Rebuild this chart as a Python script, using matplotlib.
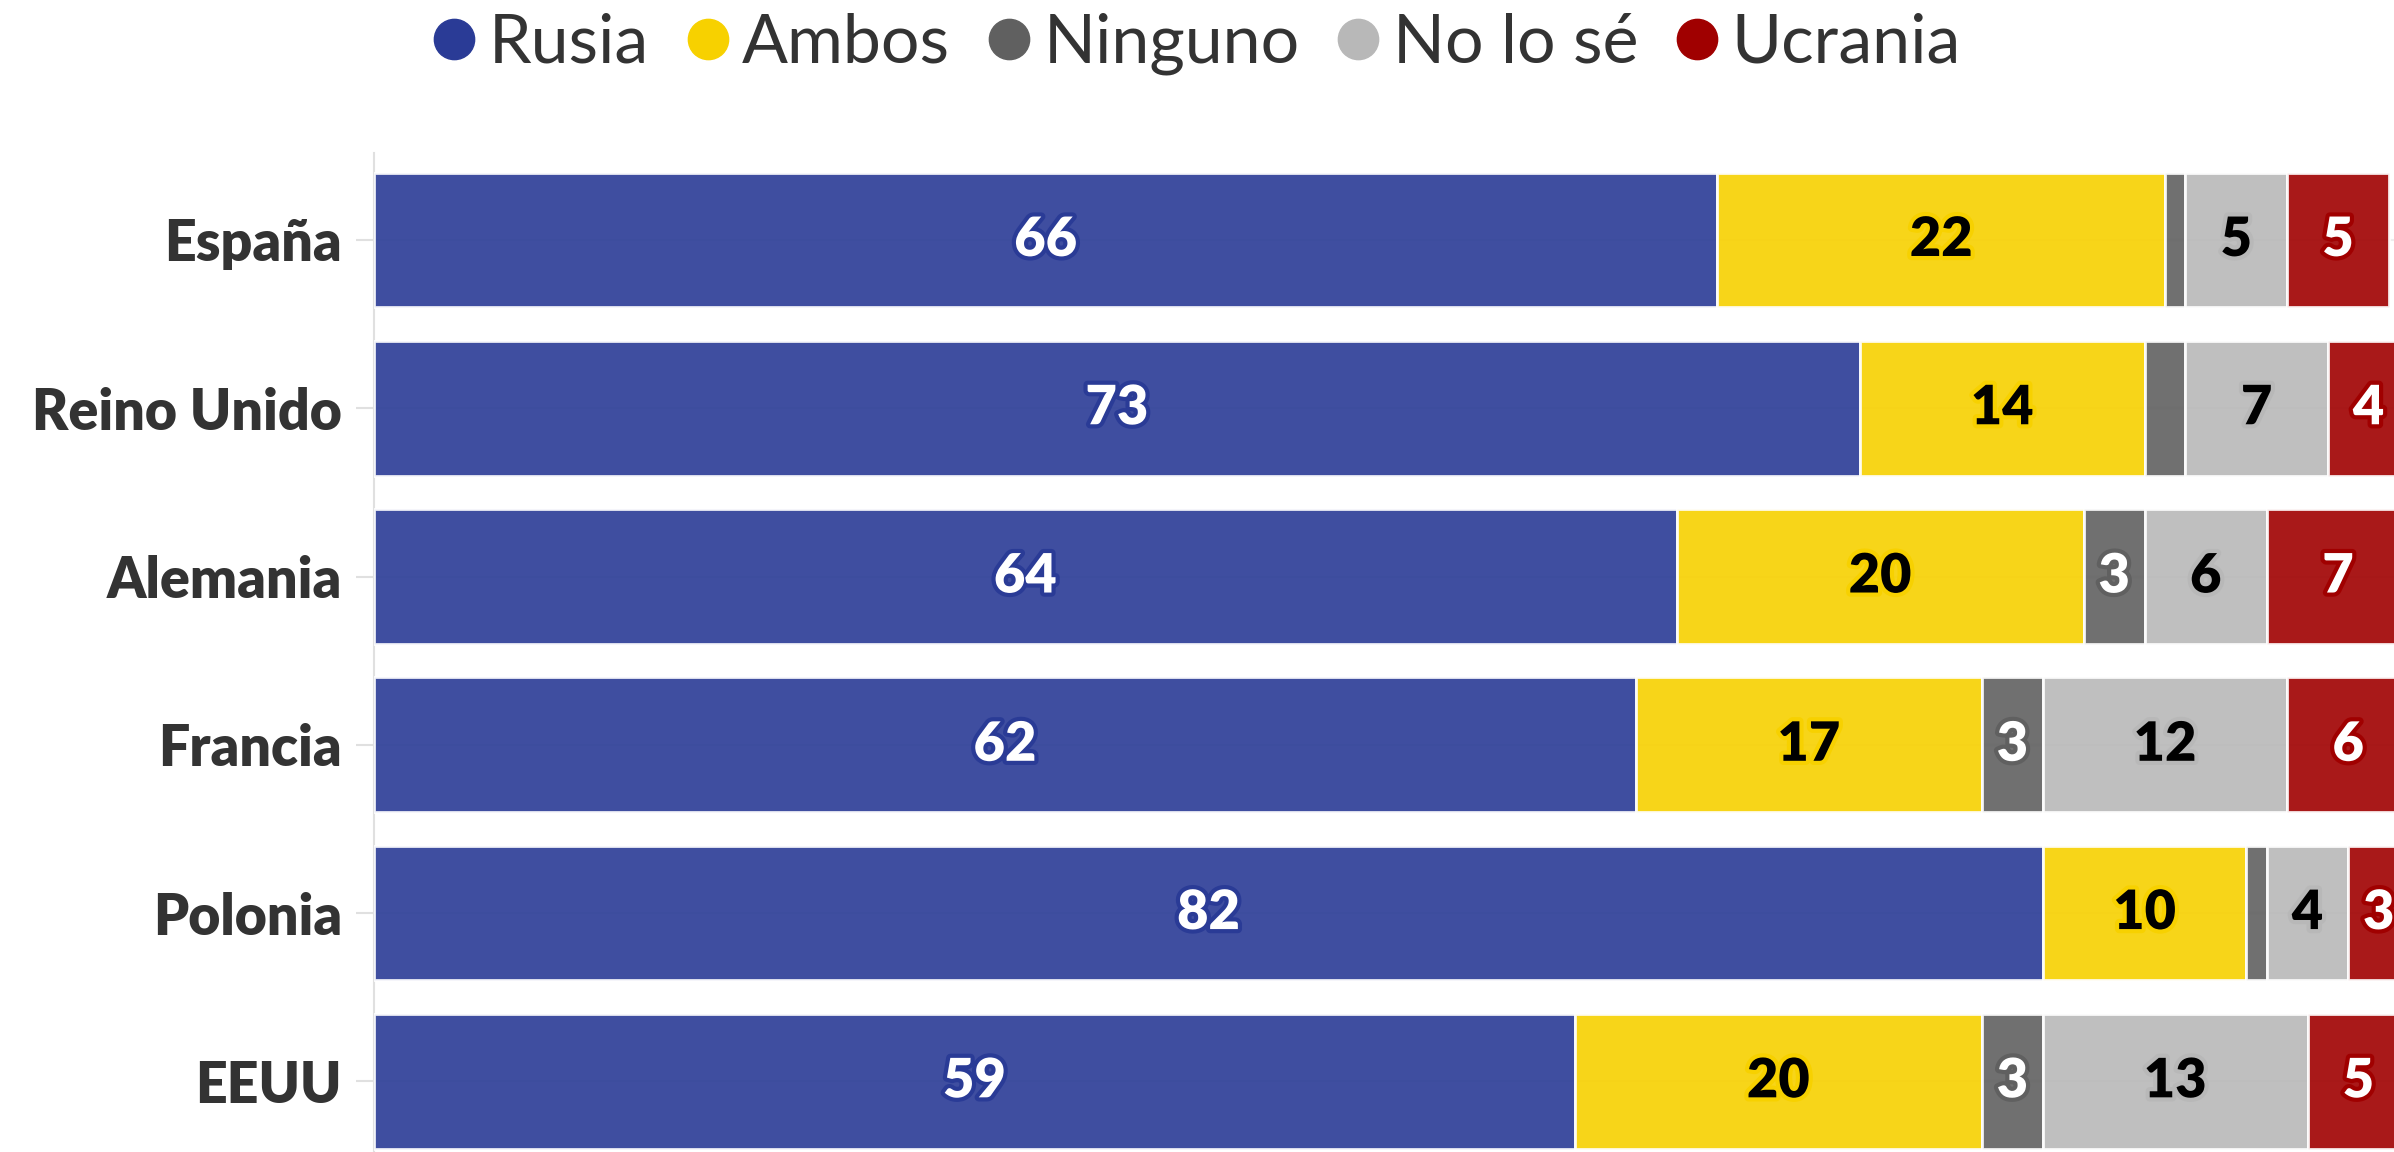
import matplotlib
matplotlib.use("Agg")
import matplotlib.pyplot as plt
import matplotlib.patheffects as pe
from matplotlib.lines import Line2D
import numpy as np

countries = ["España", "Reino Unido", "Alemania", "Francia", "Polonia", "EEUU"]
series_names = ["Rusia", "Ambos", "Ninguno", "No lo sé", "Ucrania"]
rusia = [66, 73, 64, 62, 82, 59]
ambos = [22, 14, 20, 17, 10, 20]
ninguno = [1, 2, 3, 3, 1, 3]
no_lo_se = [5, 7, 6, 12, 4, 13]
ucrania = [5, 4, 7, 6, 3, 5]

series_values = [rusia, ambos, ninguno, no_lo_se, ucrania]
colors = ["#2a3b96", "#f7d100", "#606060", "#b8b8b8", "#a00000"]
text_colors = ["white", "black", "white", "black", "white"]

plt.rcParams['font.family'] = ['Lato', 'DejaVu Sans']

fig = plt.figure(figsize=(23.94, 11.52), dpi=100)
ax = fig.add_axes([374/2394, 0.0, 1 - 374/2394, 1 - 153/1152])

y = np.arange(len(countries))
left = np.zeros(len(countries))
for vals, col, tcol in zip(series_values, colors, text_colors):
    vals = np.array(vals, dtype=float)
    ax.barh(y, vals, left=left, height=0.8, color=col, alpha=0.9,
            edgecolor='white', linewidth=2, zorder=3)
    for yi, (l, v) in enumerate(zip(left, vals)):
        if v >= 3:
            ax.text(l + v / 2, yi, f"{int(v)}", ha='center', va='center',
                    fontsize=39, fontweight='heavy', color=tcol, zorder=5,
                    path_effects=[pe.withStroke(linewidth=6, foreground=col)])
    left += vals

ax.set_xlim(0, 99.25)
ax.set_ylim(5.42, -0.517)
ax.set_yticks(y)
ax.set_yticklabels(countries, fontsize=40, fontweight='heavy', color='#333333')
ax.set_xticks([])
ax.tick_params(axis='y', length=13, width=1.5, color='#e0e0e0', pad=10)
for s in ['top', 'right', 'bottom']:
    ax.spines[s].set_visible(False)
ax.spines['left'].set_color('#e0e0e0')
ax.spines['left'].set_linewidth(1.5)
ax.grid(axis='y', color='#eeeeee', linewidth=1.5, zorder=0)
ax.set_axisbelow(True)

handles = [Line2D([], [], marker='o', linestyle='', markersize=29,
                  markerfacecolor=c, markeredgecolor=c) for c in colors]
fig.legend(handles, series_names, loc='center', bbox_to_anchor=(0.5, 1 - 44/1152),
           ncol=5, frameon=False, fontsize=49, handlelength=0.62,
           handletextpad=0.2, columnspacing=0.55, labelcolor='#333333')

fig.savefig("out.png", dpi=100)
